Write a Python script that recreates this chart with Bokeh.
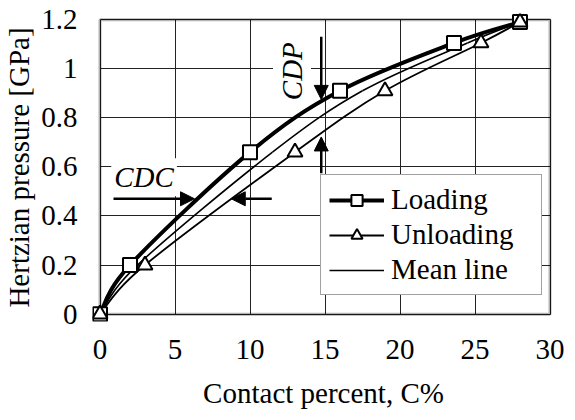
from bokeh.plotting import figure
from bokeh.models import (Range1d, FixedTicker, Legend, LegendItem, Label, Arrow,
                          NormalHead, BoxAnnotation, ColumnDataSource)
from bokeh.embed import file_html
from bokeh.resources import INLINE
import math

# ---- data ----
pressure = [0.0, 0.2, 0.66, 0.91, 1.105, 1.19]          # GPa
loading_c = [0.0, 2.0, 10.0, 16.0, 23.6, 28.0]          # C%
unloading_c = [0.0, 3.0, 13.0, 19.0, 25.4, 28.0]        # C%
mean_c = [0.0, 2.5, 11.5, 17.5, 24.5, 28.0]             # C%

x_ticks = [0, 5, 10, 15, 20, 25, 30]
y_ticks = [0.0, 0.2, 0.4, 0.6, 0.8, 1.0, 1.2]
y_tick_labels = ["0", "0.2", "0.4", "0.6", "0.8", "1", "1.2"]
X_MIN, X_MAX = 0, 30
Y_MIN, Y_MAX = 0.0, 1.2

FONT = "Liberation Serif"
FS = "29px"


def smooth(xs, ys):
    """Excel-like smoothed line: cubic Bezier segments through the points."""
    n = len(xs)
    d = dict(x0=[], y0=[], x1=[], y1=[], cx0=[], cy0=[], cx1=[], cy1=[])
    for i in range(n - 1):
        a = max(i - 1, 0)
        b = min(i + 2, n - 1)
        d["x0"].append(xs[i]); d["y0"].append(ys[i])
        d["x1"].append(xs[i + 1]); d["y1"].append(ys[i + 1])
        d["cx0"].append(xs[i] + (xs[i + 1] - xs[a]) / 6)
        d["cy0"].append(ys[i] + (ys[i + 1] - ys[a]) / 6)
        d["cx1"].append(xs[i + 1] - (xs[b] - xs[i]) / 6)
        d["cy1"].append(ys[i + 1] - (ys[b] - ys[i]) / 6)
    return ColumnDataSource(d)


p = figure(frame_width=462, frame_height=308, output_backend="svg", toolbar_location=None,
           x_range=Range1d(X_MIN - 0.5, X_MAX + 0.3), y_range=Range1d(Y_MIN - 0.03, Y_MAX + 0.025),
           min_border_left=86, min_border_right=11, min_border_top=13, min_border_bottom=90)
p.outline_line_color = None
p.background_fill_color = "white"

# grid lines limited to the data box
for g, ticks, cb in ((p.xgrid, x_ticks, (Y_MIN, Y_MAX)), (p.ygrid, y_ticks, (X_MIN, X_MAX))):
    g.ticker = FixedTicker(ticks=ticks)
    g.grid_line_color = "#222222"
    g.grid_line_width = 1
    if "cross_bounds" in g.properties():
        g.cross_bounds = cb

# axes
p.xaxis.ticker = FixedTicker(ticks=x_ticks)
p.yaxis.ticker = FixedTicker(ticks=y_ticks)
p.yaxis.major_label_overrides = {t: l for t, l in zip(y_ticks, y_tick_labels)}
for ax in (p.xaxis, p.yaxis):
    ax.axis_line_color = None
    ax.major_tick_line_color = None
    ax.minor_tick_line_color = None
    ax.major_label_text_font = FONT
    ax.major_label_text_font_size = FS
    ax.major_label_text_color = "black"
    ax.axis_label_text_font = FONT
    ax.axis_label_text_font_size = FS
    ax.axis_label_text_font_style = "normal"
    ax.axis_label_text_color = "black"
p.xaxis.axis_label = "Contact percent, C%"
p.yaxis.axis_label = "Hertzian pressure [GPa]"
p.xaxis.major_label_standoff = 12
p.yaxis.major_label_standoff = 9
p.xaxis.axis_label_standoff = 15
p.yaxis.axis_label_standoff = 3

# frame of the data box
p.add_layout(BoxAnnotation(left=X_MIN, right=X_MAX, bottom=Y_MIN, top=Y_MAX,
                           fill_color=None, line_color="black", line_width=3,
                           level="underlay"))

# curves
r_load = p.bezier(x0="x0", y0="y0", x1="x1", y1="y1", cx0="cx0", cy0="cy0",
                  cx1="cx1", cy1="cy1", source=smooth(loading_c, pressure),
                  line_color="black", line_width=4)
r_unload = p.bezier(x0="x0", y0="y0", x1="x1", y1="y1", cx0="cx0", cy0="cy0",
                    cx1="cx1", cy1="cy1", source=smooth(unloading_c, pressure),
                    line_color="black", line_width=1.8)
r_mean = p.bezier(x0="x0", y0="y0", x1="x1", y1="y1", cx0="cx0", cy0="cy0",
                  cx1="cx1", cy1="cy1", source=smooth(mean_c, pressure),
                  line_color="black", line_width=1.6)
s_load = p.scatter(loading_c, pressure, marker="square", size=14, fill_color="white",
                   line_color="black", line_width=2)
s_unload = p.scatter(unloading_c, pressure, marker="triangle", size=15, fill_color="white",
                     line_color="black", line_width=2)

# annotations
head = dict(size=14, fill_color="black", line_color="black")
p.add_layout(Arrow(end=NormalHead(**head), x_start=0.9, y_start=0.47, x_end=6.3, y_end=0.47,
                   line_width=2.5))
p.add_layout(Arrow(end=NormalHead(**head), x_start=11.45, y_start=0.47, x_end=8.75, y_end=0.47,
                   line_width=2.5))
p.add_layout(Arrow(end=NormalHead(**head), x_start=14.75, y_start=1.13, x_end=14.75, y_end=0.875,
                   line_width=2.5))
p.add_layout(Arrow(end=NormalHead(**head), x_start=14.75, y_start=0.574, x_end=14.75, y_end=0.722,
                   line_width=2.5))
p.add_layout(Label(x=0.75, y=0.558, text="CDC", text_font=FONT, text_font_style="italic",
                   text_font_size=FS, text_color="black", text_baseline="middle",
                   text_align="left", background_fill_color="white", padding=3))
p.add_layout(Label(x=12.8, y=0.99, text="CDP", text_font=FONT, text_font_style="italic",
                   text_font_size=FS, text_color="black", text_baseline="middle",
                   text_align="center", angle=math.pi / 2, background_fill_color="white",
                   padding=3))

legend = Legend(items=[LegendItem(label="Loading", renderers=[r_load, s_load]),
                       LegendItem(label="Unloading", renderers=[r_unload, s_unload]),
                       LegendItem(label="Mean line", renderers=[r_mean])],
                location=(228, 26), label_text_font=FONT, label_text_font_size=FS,
                label_text_color="black", label_width=142,
                glyph_width=55, glyph_height=28, label_standoff=7, spacing=2, padding=8,
                border_line_color="#444444", border_line_width=1.5,
                background_fill_color="white", background_fill_alpha=1.0, margin=0)
p.add_layout(legend, "center")

open("out.html", "w").write(file_html(p, INLINE))
